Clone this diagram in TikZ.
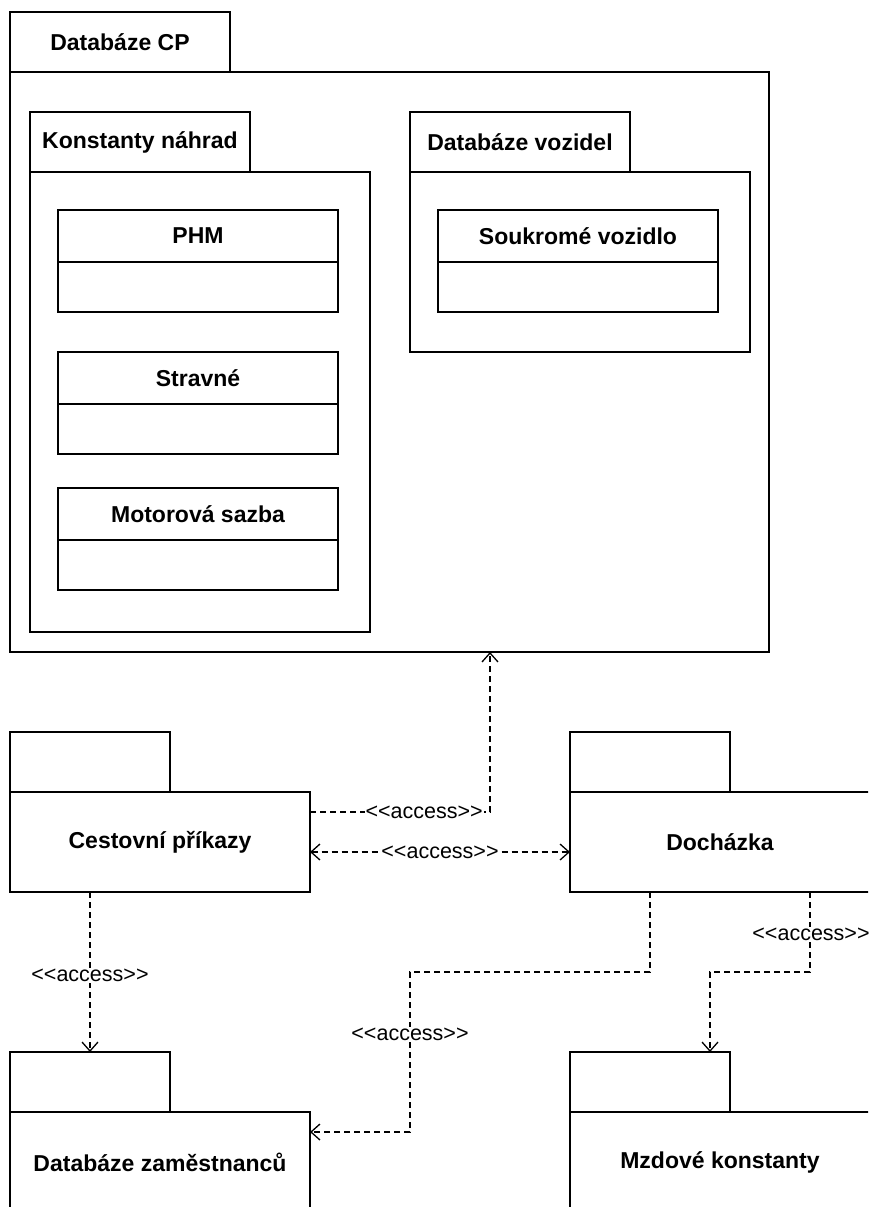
\documentclass[tikz,border=0pt]{standalone}
\usepackage{fontspec}
\newfontfamily\boxfont{Liberation Sans}
\newfontfamily\lblfont{Liberation Sans}
\usetikzlibrary{arrows.meta,calc}

\tikzset{
  frame/.style={draw, rectangle, line width=1.8pt, inner sep=0pt, outer sep=0pt, anchor=north west},
  title/.style={font=\boxfont\fontsize{23}{27}\selectfont\bfseries},
  pkgtab/.style={frame, title, minimum width=#1, minimum height=60pt},
  pkgbody/.style 2 args={frame, title, minimum width=#1, minimum height=#2},
  classhead/.style={frame, title, minimum width=280pt, minimum height=52pt},
  % attribute compartment: sides and bottom only, the top is the header's edge
  attrline/.style={line width=1.8pt},
  classrest/.style={rectangle, inner sep=0pt, outer sep=0pt, anchor=north west,
    minimum width=280pt, minimum height=50pt,
    append after command={
      (\tikzlastnode.north west) |- (\tikzlastnode.south east)
      -- (\tikzlastnode.north east)}},
  >={Straight Barb[length=9pt,width=16pt]},
  dep/.style={line width=1.3pt, dash pattern=on 6pt off 4pt},
  lbl/.style={fill=white, inner sep=1pt, font=\lblfont\fontsize{21.5}{24}\selectfont}
}

\begin{document}
\begin{tikzpicture}[x=1pt,y=-1pt]
\useasboundingbox (0,0) rectangle (868,1207);
\clip (0,0) rectangle (868,1207);

% package Databáze CP with its nested packages and classes
\node[pkgtab=220pt] (cpTab) at (10,12) {Databáze CP};
\node[pkgbody={759pt}{580pt}] (cpBody) at (10,72) {};

\node[pkgtab=220pt] (knTab) at (30,112) {Konstanty náhrad};
\node[pkgbody={340pt}{460pt}] (knBody) at (30,172) {};

\node[classhead] (phm) at (58,210) {PHM};
\draw[attrline] node[classrest] (phmAttr) at (phm.south west) {};
\node[classhead] (strav) at (58,352) {Stravné};
\draw[attrline] node[classrest] (stravAttr) at (strav.south west) {};
\node[classhead] (motor) at (58,488) {Motorová sazba};
\draw[attrline] node[classrest] (motorAttr) at (motor.south west) {};

\node[pkgtab=220pt] (dvTab) at (410,112) {Databáze vozidel};
\node[pkgbody={340pt}{180pt}] (dvBody) at (410,172) {};
\node[classhead] (souk) at (438,210) {Soukromé vozidlo};
\draw[attrline] node[classrest] (soukAttr) at (souk.south west) {};

% leaf packages
\node[pkgtab=160pt] (cestTab) at (10,732) {};
\node[pkgbody={300pt}{100pt}] (cestBody) at (10,792) {Cestovní příkazy};
\node[pkgtab=160pt] (dochTab) at (570,732) {};
\node[pkgbody={300pt}{100pt}] (dochBody) at (570,792) {Docházka};
\node[pkgtab=160pt] (zamTab) at (10,1052) {};
\node[pkgbody={300pt}{100pt}] (zamBody) at (10,1112) {Databáze zaměstnanců};
\node[pkgtab=160pt] (mzdTab) at (570,1052) {};
\node[pkgbody={300pt}{100pt}] (mzdBody) at (570,1112) {Mzdové konstanty};

% access dependencies
\draw[dep,->] ([yshift=-20pt]cestBody.north east) -| ($(cpBody.south west)+(480,0)$)
  node[lbl,pos=0.317] (acc1) {<<access>>};
\draw[dep,<->] ([yshift=-60pt]cestBody.north east) -- ([yshift=-60pt]dochBody.north west)
  node[lbl,midway] (acc2) {<<access>>};
\draw[dep,->] ([xshift=80pt]cestBody.south west) -- ([xshift=80pt]zamTab.north west)
  node[lbl,pos=0.52] (acc3) {<<access>>};

\coordinate (bendA) at (410,972);
\draw[dep,->] ([xshift=80pt]dochBody.south west) |- (bendA) |- ([yshift=-20pt]zamBody.north east);
\node[lbl] (acc4) at (410,1034) {<<access>>};

\coordinate (bendB) at (710,972);
\draw[dep,->] ([xshift=240pt]dochBody.south west) |- (bendB) -- ([xshift=140pt]mzdTab.north west);
\node[lbl] (acc5) at (811,934) {<<access>>};
\end{tikzpicture}
\end{document}
